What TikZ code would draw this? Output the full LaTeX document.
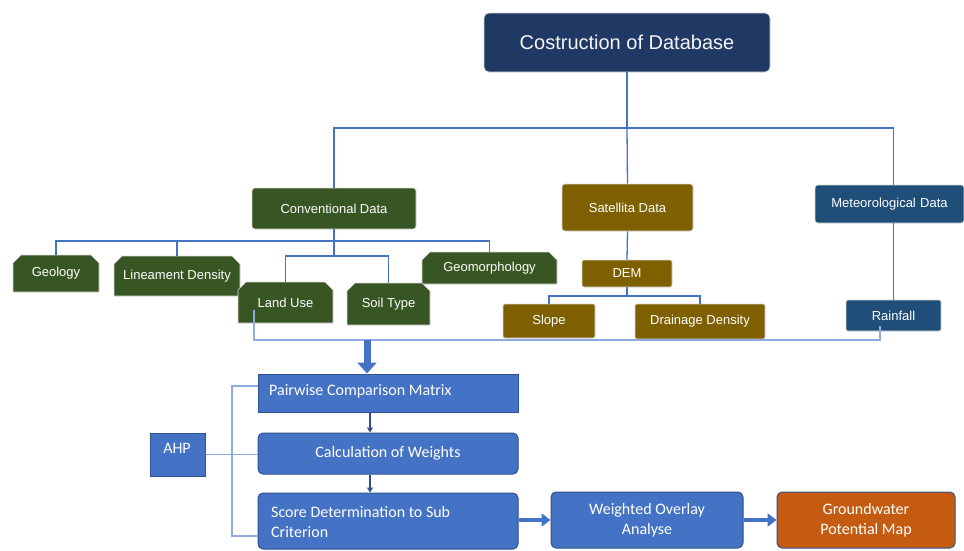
\documentclass[tikz,border=0pt]{standalone}
\usepackage{fontspec}
\setmainfont{Liberation Sans}
\newfontfamily\calib{Carlito}
\usetikzlibrary{shapes.misc,arrows.meta}
\definecolor{navy}{HTML}{1F3864}
\definecolor{dgreen}{HTML}{375623}
\definecolor{brownc}{HTML}{7F6000}
\definecolor{metblue}{HTML}{1F4E79}
\definecolor{mblue}{HTML}{4472C4}
\definecolor{oblue}{HTML}{2F528F}
\definecolor{lblue}{HTML}{8FAADC}
\definecolor{orangec}{HTML}{C55A11}
\definecolor{edgegray}{HTML}{D9D9D9}
\tikzset{
  topbox/.style={draw=edgegray, line width=0.6pt, text=white, inner sep=0pt, rounded corners=3pt, font=\fontsize{13}{15}\selectfont},
  snipbox/.style={chamfered rectangle, chamfered rectangle corners={north east,north west}, chamfered rectangle xsep=4pt, chamfered rectangle ysep=4pt, draw=edgegray, line width=0.6pt, fill=dgreen, text=white, inner sep=0pt, font=\fontsize{13}{15}\selectfont},
  lowbox/.style={draw=oblue, line width=1pt, fill=mblue, text=white, inner sep=0pt, font=\calib\fontsize{16}{19}\selectfont},
  lowtext/.style={font=\calib\fontsize{16}{20}\selectfont, text=white, inner sep=0pt},
  conn/.style={draw=mblue, line width=1.3pt},
  lconn/.style={draw=lblue, line width=1.2pt},
  smallarr/.style={draw=oblue, line width=2pt, -{Triangle[length=5pt,width=6pt]}},
  flowarr/.style={draw=mblue, line width=4pt, -{Triangle[length=9pt,width=13pt]}},
  bigarr/.style={draw=mblue, line width=7pt, -{Triangle[length=11pt,width=19pt]}}
}
\begin{document}
\begin{tikzpicture}[x=1pt,y=-1pt]
\useasboundingbox[fill=white] (0,0) rectangle (964,550);
% top
\node[topbox, fill=navy, rounded corners=5pt, minimum width=286pt, minimum height=59pt, font=\fontsize{20}{23}\selectfont, text=white!92!gray] (db) at (627,42.5) {Costruction of Database};
\node[topbox, fill=dgreen, minimum width=164pt, minimum height=41pt] (conv) at (334,208.5) {Conventional Data};
\node[topbox, fill=brownc, minimum width=131pt, minimum height=47pt] (sat) at (627.5,207.5) {Satellita Data};
\node[topbox, fill=metblue, minimum width=149pt, minimum height=38pt] (met) at (889.5,204) {Meteorological\,\,Data};
% conventional children
\node[snipbox, minimum width=86pt, minimum height=37pt] (geo) at (56,273.5) {Geology};
\node[snipbox, minimum width=126pt, minimum height=40pt] (lin) at (177,276) {Lineament Density};
\node[snipbox, minimum width=135pt, minimum height=32pt] (geom) at (489.5,268) {Geomorphology};
\node[snipbox, minimum width=95pt, minimum height=41pt] (land) at (285.5,302.5) {Land Use};
\node[snipbox, minimum width=83pt, minimum height=42pt] (soil) at (388.5,304) {Soil Type};
% satellite children
\node[topbox, fill=brownc, rounded corners=2pt, minimum width=90pt, minimum height=27pt] (dem) at (627,273.5) {DEM};
\node[topbox, fill=brownc, rounded corners=2pt, minimum width=92pt, minimum height=34pt] (slope) at (549,321) {Slope};
\node[topbox, fill=brownc, rounded corners=2pt, minimum width=130pt, minimum height=35pt] (drain) at (700,321.5) {Drainage Density};
\node[topbox, fill=metblue, rounded corners=2pt, minimum width=95pt, minimum height=31pt] (rain) at (893.5,315.5) {Rainfall};
% connectors top
\coordinate (bus1) at (627,128);
\draw[conn] (db.south) -- (bus1);
\draw[conn] (conv.north) |- (bus1);
\draw[conn] (bus1) -| (rain.north |- met.north);
\draw[conn] (bus1) -- (sat.north);
\coordinate (bus2) at (334,241);
\coordinate (bus3) at (334,256);
\draw[conn] (conv.south) -- (bus3);
\draw[conn] (geo.north) |- (bus2) -| (geom.north);
\draw[conn] (lin.north) -- (lin.north |- bus2);
\draw[conn] (land.north) |- (bus3) -| (soil.north);
\draw[conn] (sat.south) -- (dem.north);
\coordinate (bus4) at (627,296);
\draw[conn] (dem.south) -- (bus4);
\draw[conn] (slope.north) |- (bus4) -| (drain.north);
\draw[conn] (rain.north |- met.south) -- (rain.north);
% collector
\coordinate (c1) at (254,310);
\coordinate (c2) at (254,340);
\coordinate (c3) at (880,340);
\coordinate (c4) at (880,326);
\coordinate (cm) at (367,340);
\draw[lconn] (c1) -- (c2) -- (c3) -- (c4);
% lower
\node[lowbox, minimum width=260pt, minimum height=38pt] (pair) at (388,393) {};
\node[lowtext, anchor=west] (pairt) at (269,391) {Pairwise Comparison Matrix};
\node[lowbox, rounded corners=5pt, minimum width=260pt, minimum height=41pt] (calc) at (388,453.5) {Calculation of Weights};
\node[lowbox, rounded corners=5pt, minimum width=260pt, minimum height=56pt] (score) at (388,521) {};
\node[lowtext, anchor=west, align=left] (scoret) at (271,522) {Score Determination to Sub\\Criterion};
\node[lowbox, minimum width=55pt, minimum height=43pt] (ahp) at (177.5,454.5) {};
\node[lowtext] (ahpt) at (177,448) {AHP};
\node[lowbox, rounded corners=5pt, minimum width=192pt, minimum height=56pt, align=center, font=\calib\fontsize{16}{20}\selectfont] (wo) at (647,520) {Weighted Overlay\\Analyse};
\node[lowbox, fill=orangec, draw=oblue, rounded corners=5pt, minimum width=178pt, minimum height=56pt, align=center, font=\calib\fontsize{16}{20}\selectfont] (gw) at (866,520) {Groundwater\\Potential Map};
% arrows
\draw[bigarr] (cm) -- (cm |- pair.north);
\draw[smallarr] (pair.south -| 370,0) -- (calc.north -| 370,0);
\draw[smallarr] (calc.south -| 370,0) -- (score.north -| 370,0);
\draw[flowarr] (score.east |- 0,520) -- (wo.west);
\draw[flowarr] (wo.east) -- (gw.west);
% AHP bracket
\coordinate (bt) at (232,386);
\coordinate (bb) at (232,536);
\draw[lconn] (bt -| pair.west) -- (bt) -- (bb) -- (bb -| score.west);
\draw[lconn] (ahp.east) -- (ahp.east -| calc.west);
\end{tikzpicture}
\end{document}
